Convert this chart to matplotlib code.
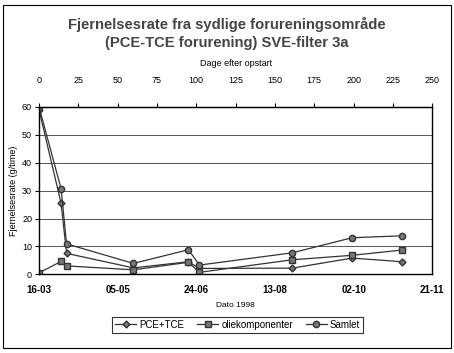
import matplotlib.pyplot as plt
from matplotlib.patches import Rectangle

plt.rcParams['font.family'] = ['Liberation Sans', 'DejaVu Sans']

# days after start (16-03-1998)
days = [0, 14, 17.5, 60, 95, 102, 161, 199, 231]
pce_tce = [59, 25.5, 7.5, 2.3, 4.5, 2.1, 2.2, 5.8, 4.5]
olie = [0.5, 4.6, 3.0, 1.6, 4.3, 0.7, 5.2, 6.8, 8.7]
samlet = [60, 30.7, 10.9, 3.9, 8.8, 3.3, 7.7, 13.1, 13.8]

date_ticks = [0, 50, 100, 150, 200, 250]
date_labels = ['16-03', '05-05', '24-06', '13-08', '02-10', '21-11']
day_ticks = list(range(0, 251, 25))

fig = plt.figure(figsize=(4.54, 3.53), dpi=100)
ax = fig.add_axes([0.086, 0.223, 0.866, 0.474])

ax.plot(days, pce_tce, color='#333333', lw=0.9, marker='D', ms=3.5,
        mfc='#777777', mec='#333333', label='PCE+TCE')
ax.plot(days, olie, color='#333333', lw=0.9, marker='s', ms=4,
        mfc='#777777', mec='#333333', label='oliekomponenter')
ax.plot(days, samlet, color='#333333', lw=0.9, marker='o', ms=4.5,
        mfc='#777777', mec='#333333', label='Samlet')

ax.set_xlim(0, 250)
ax.set_ylim(0, 60)
ax.set_yticks(range(0, 61, 10))
ax.yaxis.grid(True, color='#555555', lw=0.7)
ax.set_axisbelow(True)
ax.tick_params(axis='y', labelsize=6.5, length=3, pad=2)

ax.set_xticks(date_ticks)
ax.set_xticklabels(date_labels, fontsize=7, fontweight='bold')
ax.tick_params(axis='x', length=0, pad=8)
ax.set_xlabel('Dato 1998', fontsize=6, labelpad=5)
ax.set_ylabel('Fjernelsesrate (g/time)', fontsize=6.5, labelpad=3)

top = ax.secondary_xaxis('top')
top.set_xticks(day_ticks)
top.tick_params(labelsize=6.5, length=3, pad=13)
top.set_xlabel('Dage efter opstart', fontsize=6.5, labelpad=7)

for s in ax.spines.values():
    s.set_linewidth(1.0)

fig.text(0.5, 0.905, 'Fjernelsesrate fra sydlige forureningsområde\n(PCE-TCE forurening) SVE-filter 3a',
         ha='center', va='center', fontsize=10.6, fontweight='bold',
         color='#444444', linespacing=1.35)

leg = ax.legend(loc='upper center', bbox_to_anchor=(0.505, -0.225), ncol=3,
                fontsize=7, frameon=True, fancybox=False, edgecolor='black',
                handlelength=2.2, columnspacing=1.3, borderpad=0.3,
                handletextpad=0.3)
leg.get_frame().set_linewidth(0.8)

fig.patches.append(Rectangle((0.006, 0.015), 0.988, 0.97, transform=fig.transFigure,
                             fill=False, edgecolor='black', lw=0.8))

fig.savefig('out.png', dpi=100)
